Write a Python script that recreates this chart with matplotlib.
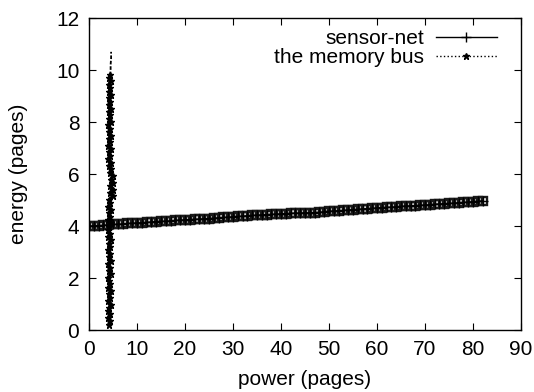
import matplotlib
matplotlib.use("Agg")
import matplotlib.pyplot as plt

plt.rcParams['font.family'] = ['Liberation Sans', 'DejaVu Sans']

sensor_x = list(range(0, 83))
sensor_y = [4.00,4.01,4.02,4.03,4.05,4.06,4.07,4.08,4.10,4.11,4.12,4.13,4.14,4.16,4.17,4.18,4.19,4.20,4.22,4.23,
            4.24,4.25,4.26,4.27,4.28,4.29,4.30,4.32,4.33,4.34,4.36,4.37,4.38,4.40,4.41,4.42,4.43,4.44,4.45,4.46,
            4.47,4.48,4.49,4.50,4.50,4.51,4.51,4.52,4.53,4.55,4.57,4.58,4.59,4.60,4.62,4.63,4.64,4.66,4.67,4.68,
            4.70,4.71,4.72,4.73,4.74,4.76,4.77,4.78,4.79,4.80,4.81,4.82,4.84,4.85,4.86,4.87,4.88,4.90,4.91,4.92,
            4.94,4.95,4.97]

mem_y = [0.20,0.33,0.46,0.60,0.72,0.85,0.98,1.10,1.24,1.37,1.50,1.62,1.76,1.89,2.02,2.15,2.28,2.40,2.54,2.67,
         2.80,2.93,3.06,3.19,3.32,3.45,3.58,3.71,3.84,3.97,4.10,4.23,4.36,4.49,4.62,4.75,4.88,5.01,5.14,5.27,
         5.40,5.53,5.66,5.79,5.92,6.05,6.18,6.31,6.44,6.57,6.70,6.83,6.96,7.09,7.22,7.35,7.48,7.61,7.74,7.87,
         8.00,8.13,8.26,8.39,8.52,8.65,8.78,8.91,9.04,9.17,9.30,9.43,9.56,9.69,9.80,10.00,10.20,10.45,10.70]
mem_x = [4.1,4.3,4.0,4.4,4.0,4.2,4.5,4.0,4.3,4.1,
         4.5,4.0,4.4,4.1,4.0,4.5,4.1,4.3,4.0,4.5,
         4.1,4.4,4.0,4.3,4.1,4.5,4.0,4.4,4.0,4.2,
         4.5,4.0,4.3,4.1,4.5,4.0,4.4,4.2,5.0,4.3,
         5.1,4.4,5.1,4.5,5.0,4.3,4.6,4.1,4.5,4.0,
         4.4,4.1,4.5,4.0,4.3,4.1,4.5,4.1,4.4,4.0,
         4.5,4.2,4.4,4.1,4.5,4.1,4.3,4.1,4.5,4.2,
         4.4,4.1,4.5,4.2,4.4,4.5,4.5,4.6,4.6]

xticks = [0,10,20,30,40,50,60,70,80,90]
yticks = [0,2,4,6,8,10,12]
FS = 15

fig = plt.figure(figsize=(5.34, 3.92), dpi=100)
ax = fig.add_axes([0.1667, 0.158, 0.809, 0.796])

# dense band texture of the sensor-net points
ax.plot(sensor_x, sensor_y, linestyle='none', marker='s', markersize=6,
        markerfacecolor='none', markeredgecolor='#1a1a1a', markeredgewidth=1.7, zorder=2)
ax.plot(sensor_x, sensor_y, color='black', linewidth=1.0, marker='+', markersize=7,
        markeredgewidth=1.0, label='sensor-net', zorder=3)

# memory bus: dense points (main body) + thin dashed tail at the top
ax.plot(mem_x[:75], mem_y[:75], color='black', linewidth=2.4, linestyle='-', marker='*', markersize=5,
        zorder=3)
ax.plot(mem_x[74:], mem_y[74:], color='black', linewidth=1.3, linestyle='--', dashes=(2, 1),
        zorder=3)
ax.plot([], [], color='black', linewidth=1.0, linestyle=':', marker='*', markersize=5,
        label='the memory bus')

ax.set_xlim(0, 90)
ax.set_ylim(0, 12)
ax.set_xticks(xticks)
ax.set_yticks(yticks)
ax.tick_params(direction='in', top=True, right=True, labelsize=FS, length=5, pad=7)
for s in ax.spines.values():
    s.set_linewidth(1.0)
ax.set_xlabel('power (pages)', fontsize=FS, labelpad=8)
ax.set_ylabel('energy (pages)', fontsize=FS, labelpad=20)

ax.legend(loc='upper right', frameon=False, markerfirst=False, fontsize=FS,
          handlelength=2.9, borderaxespad=0.15, labelspacing=0.0, handletextpad=0.6,
          bbox_to_anchor=(0.97, 1.0))

fig.savefig('out.png', dpi=100)
